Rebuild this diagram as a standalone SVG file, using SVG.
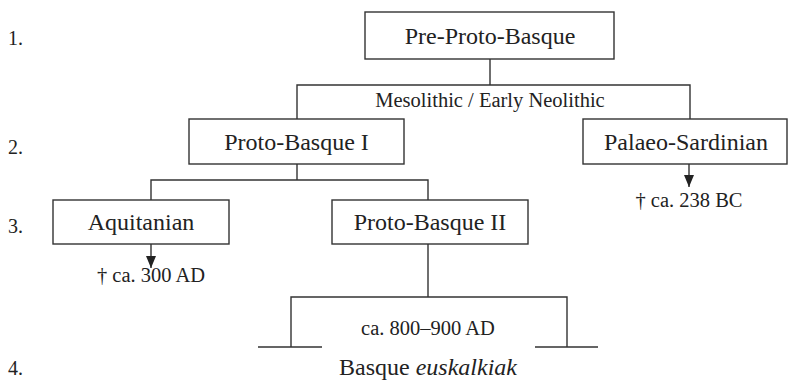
<svg xmlns="http://www.w3.org/2000/svg" width="789" height="384" viewBox="0 0 789 384">
<defs>
<marker id="ah" viewBox="0 0 12 10" refX="12" refY="5" markerWidth="12" markerHeight="10" markerUnits="userSpaceOnUse" orient="auto">
<path d="M0,0 L12,5 L0,10 Z" fill="#222"/>
</marker>
<style>
.box{fill:#fff;stroke:#333;stroke-width:1.4}
.ln{fill:none;stroke:#333;stroke-width:1.4}
text{font-family:'Liberation Serif','Times New Roman','DejaVu Serif',serif;fill:#222}
.lbl{font-size:24px;text-anchor:middle}
.ann{font-size:20.5px;text-anchor:middle}
.num{font-size:20px}
</style>
</defs>
<rect width="789" height="384" fill="#fff"/>
<g id="levels">
<text class="num" x="8" y="45">1.</text>
<text class="num" x="8" y="154">2.</text>
<text class="num" x="8" y="233">3.</text>
<text class="num" x="8" y="375">4.</text>
</g>
<g id="connectors">
<path class="ln" d="M490,59 V85 M297,119 V85 H690 V119"/>
<path class="ln" d="M297,164 V180 M151,200 V180 H428 V200"/>
<path class="ln" d="M428,244 V297 M291,347 V297 H567 V347 M258,347 H322 M535,347 H598"/>
<path class="ln" d="M689,164 V187" marker-end="url(#ah)"/>
<path class="ln" d="M151,244 V268" marker-end="url(#ah)"/>
</g>
<g id="ann">
<text class="ann" x="490" y="107">Mesolithic / Early Neolithic</text>
<text class="ann" x="689" y="207">† ca. 238 BC</text>
<text class="ann" x="151" y="282">† ca. 300 AD</text>
<text class="ann" x="428" y="335">ca. 800–900 AD</text>
</g>
<g id="pre-proto-basque">
<rect class="box" x="365" y="12" width="249" height="47"/>
<text class="lbl" x="490" y="44">Pre-Proto-Basque</text>
</g>
<g id="proto-basque-i">
<rect class="box" x="189" y="119" width="215" height="45"/>
<text class="lbl" x="296.5" y="150">Proto-Basque I</text>
</g>
<g id="palaeo-sardinian">
<rect class="box" x="583" y="119" width="204" height="45"/>
<text class="lbl" x="686" y="150">Palaeo-Sardinian</text>
</g>
<g id="aquitanian">
<rect class="box" x="53" y="200" width="176" height="44"/>
<text class="lbl" x="141" y="230">Aquitanian</text>
</g>
<g id="proto-basque-ii">
<rect class="box" x="332" y="200" width="196" height="44"/>
<text class="lbl" x="430" y="230">Proto-Basque II</text>
</g>
<g id="basque">
<text class="lbl" x="428" y="375">Basque <tspan font-style="italic">euskalkiak</tspan></text>
</g>
</svg>
